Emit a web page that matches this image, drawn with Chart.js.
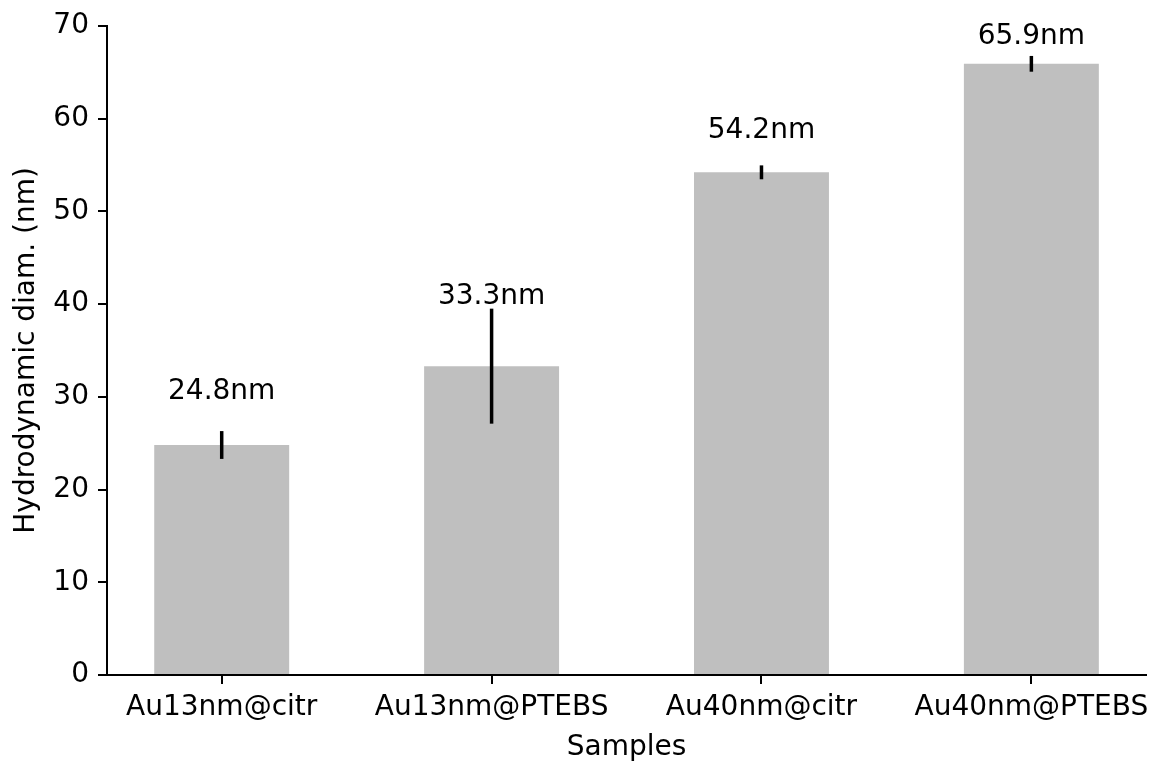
<!DOCTYPE html>
<html>
<head>
<meta charset="utf-8">
<script src="https://cdn.jsdelivr.net/npm/chart.js@4.4.0/dist/chart.umd.min.js"></script>
<style>
  html, body { margin: 0; padding: 0; background: #fff; }
  #wrap { width: 1156px; height: 762px; }
</style>
</head>
<body>
<div id="wrap"><canvas id="chart" width="1156" height="762"></canvas></div>
<script>
// Sample names and mean hydrodynamic diameters (nm)
const samples = ['Au13nm@citr', 'Au13nm@PTEBS', 'Au40nm@citr', 'Au40nm@PTEBS'];
const diameters = [24.8, 33.3, 54.2, 65.9];
// Standard deviation for each bar
const errors = [1.5, 6.2, 0.75, 0.85];
// Text labels above each bar and the y value where they sit
const barLabels = ['24.8nm', '33.3nm', '54.2nm', '65.9nm'];
const labelAt = [29.8, 40.0, 57.9, 68.0];
const yTicks = [0, 10, 20, 30, 40, 50, 60, 70];

const FONT = 'DejaVu Sans';
const FSIZE = 28;

// Draws the error bars and the value labels using the chart scales
const extras = {
    id: 'extras',
    afterDatasetsDraw(chart) {
        const ctx = chart.ctx;
        const xs = chart.scales.x;
        const ys = chart.scales.y;
        ctx.save();
        ctx.strokeStyle = '#000';
        ctx.lineWidth = 3.5;
        for (let i = 0; i < diameters.length; i++) {
            let px = xs.getPixelForValue(i);
            ctx.beginPath();
            ctx.moveTo(px, ys.getPixelForValue(diameters[i] - errors[i]));
            ctx.lineTo(px, ys.getPixelForValue(diameters[i] + errors[i]));
            ctx.stroke();
        }
        ctx.fillStyle = '#000';
        ctx.font = FSIZE + 'px "' + FONT + '"';
        ctx.textAlign = 'center';
        ctx.textBaseline = 'alphabetic';
        for (let i = 0; i < barLabels.length; i++) {
            ctx.fillText(barLabels[i], xs.getPixelForValue(i), ys.getPixelForValue(labelAt[i]));
        }
        ctx.restore();
    }
};

let points = [];
for (let i = 0; i < diameters.length; i++) {
    points.push({ x: i, y: diameters[i] });
}

new Chart(document.getElementById('chart').getContext('2d'), {
    type: 'bar',
    data: {
        datasets: [{
            data: points,
            backgroundColor: '#bfbfbf',
            borderWidth: 0,
            barPercentage: 0.5,
            categoryPercentage: 1.0
        }]
    },
    options: {
        responsive: false,
        animation: false,
        devicePixelRatio: 1,
        layout: { padding: { top: 25, right: 7, left: 0, bottom: 0 } },
        plugins: {
            legend: { display: false },
            tooltip: { enabled: false }
        },
        scales: {
            x: {
                type: 'linear',
                offset: false,
                min: -0.425,
                max: 3.425,
                afterBuildTicks: (scale) => { scale.ticks = samples.map((s, i) => ({ value: i })); },
                afterFit: (scale) => { scale.height = 87; },
                ticks: {
                    autoSkip: false,
                    maxRotation: 0,
                    padding: 7,
                    color: '#000',
                    font: { family: FONT, size: FSIZE },
                    callback: (v) => samples[v]
                },
                grid: { drawOnChartArea: false, offset: false, color: '#000', lineWidth: 2, tickLength: 9 },
                border: { display: true, color: '#000', width: 2 },
                title: {
                    display: true,
                    text: 'Samples',
                    color: '#000',
                    font: { family: FONT, size: FSIZE },
                    padding: { top: 0, bottom: -3 }
                }
            },
            y: {
                min: 0,
                max: 70,
                afterBuildTicks: (scale) => { scale.ticks = yTicks.map(v => ({ value: v })); },
                afterFit: (scale) => { scale.width = 107; },
                ticks: {
                    padding: 9,
                    color: '#000',
                    font: { family: FONT, size: FSIZE }
                },
                grid: { drawOnChartArea: false, color: '#000', lineWidth: 2, tickLength: 9 },
                border: { display: true, color: '#000', width: 2 },
                title: {
                    display: true,
                    text: 'Hydrodynamic diam. (nm)',
                    color: '#000',
                    font: { family: FONT, size: FSIZE },
                    padding: { top: 10, bottom: 6 }
                }
            }
        }
    },
    plugins: [extras]
});
</script>
</body>
</html>
